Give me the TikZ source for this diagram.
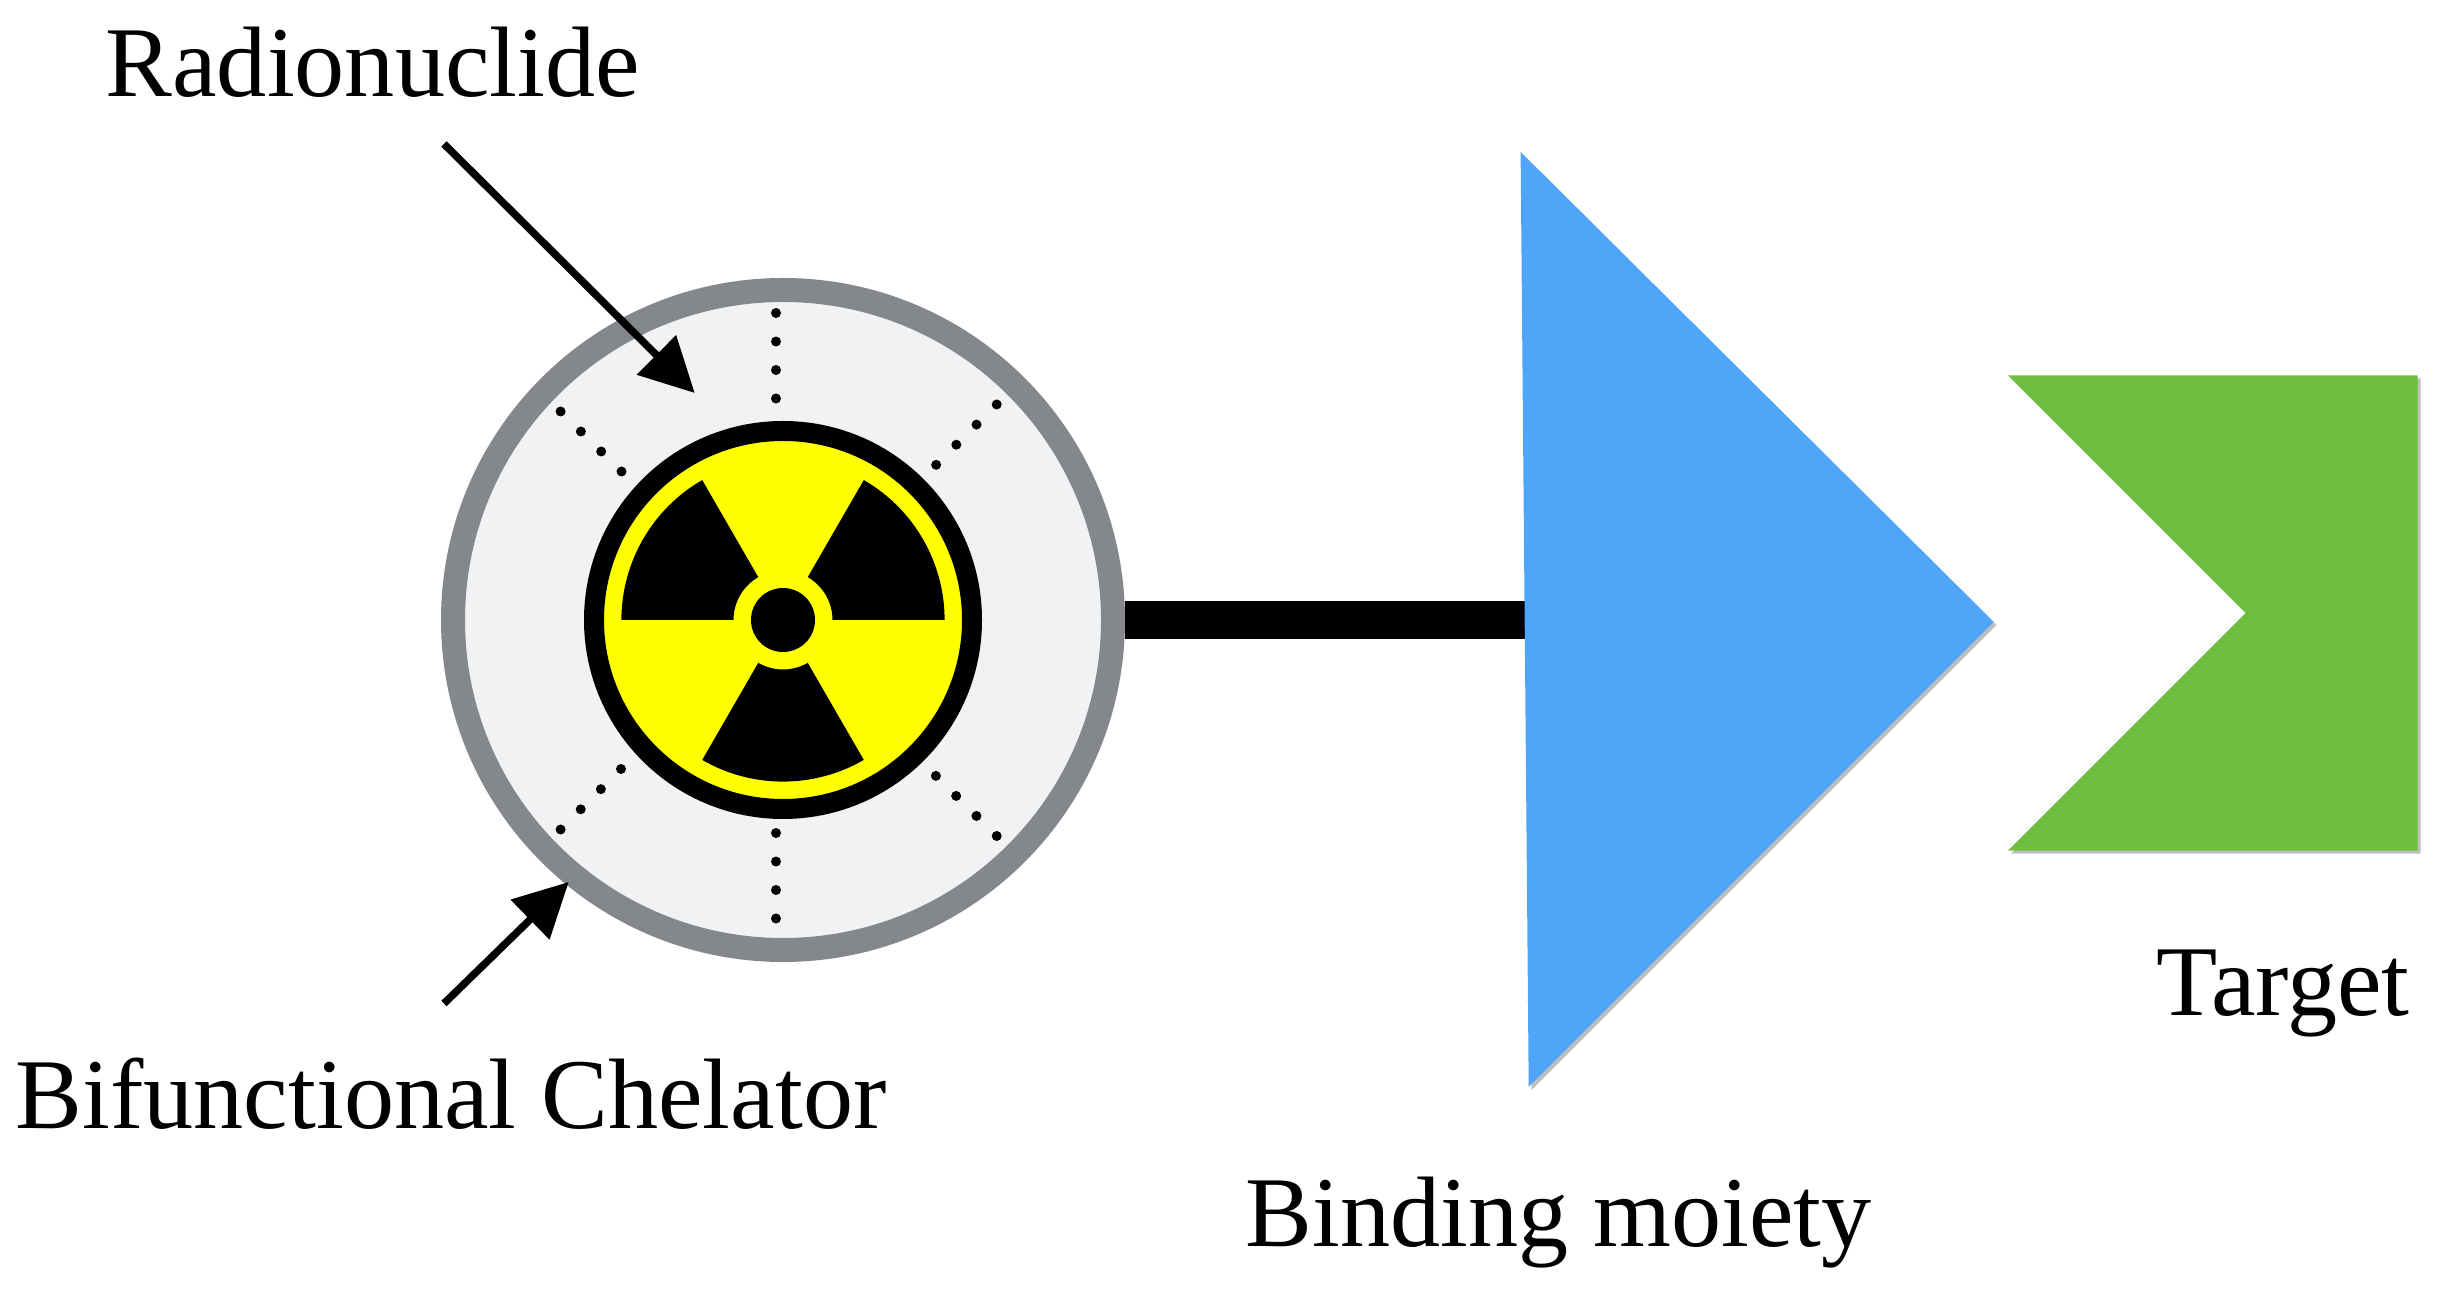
\documentclass[tikz,border=0pt]{standalone}
\usepackage{fontspec}
\setmainfont{Liberation Serif}
\usepackage{tikz}
\usetikzlibrary{arrows.meta, shadows}
\definecolor{ringgray}{HTML}{84878B}
\definecolor{discgray}{HTML}{F1F2F4}
\definecolor{bindblue}{HTML}{4FA5F8}
\definecolor{targetgreen}{HTML}{6EBE40}
\definecolor{signyellow}{HTML}{FFFF00}

\begin{document}
\begin{tikzpicture}[
        label/.style={anchor=base west, inner sep=0pt, font=\fontsize{28.5}{34}\selectfont},
        arr/.style={-{Triangle[length=5.4mm, width=5.4mm]}, line width=0.75mm},
        dots/.style={line width=1mm, line cap=round, dash pattern=on 0pt off 2.85mm},
        blade/.style={fill=black},
        soft/.style={drop shadow={shadow xshift=0.03cm, shadow yshift=-0.03cm, fill=gray, opacity=0.5}},
    ]
        \useasboundingbox (0, 0) rectangle (24.59, 13.02);

        % Chelator disc
        \node[circle, draw=ringgray, fill=discgray, line width=2.4mm, minimum size=6.6cm, inner sep=0pt] (chelator) at (7.83, 6.82) {};

        % Coordination sites
        \draw[dots] (7.76, 9.89) -- (7.76, 9.03);
        \draw[dots] (7.76, 4.69) -- (7.76, 3.81);
        \draw[dots] (5.606, 8.905) -- (6.22, 8.30);
        \draw[dots] (9.967, 8.975) -- (9.35, 8.36);
        \draw[dots] (5.606, 4.725) -- (6.22, 5.34);
        \draw[dots] (9.967, 4.66) -- (9.35, 5.27);

        % Radiation symbol
        \node[circle, draw=black, fill=signyellow, line width=2mm, minimum size=3.78cm, inner sep=0pt] (nuclide) at (chelator.center) {};
        \node[circle, fill=black, minimum size=0.64cm, inner sep=0pt] (hub) at (chelator.center) {};
        \begin{scope}[shift={(chelator.center)}]
            \fill[blade] (0:0.495) -- (0:1.616) arc[start angle=0, end angle=60, radius=1.616] -- (60:0.495) arc[start angle=60, end angle=0, radius=0.495] -- cycle;
            \fill[blade] (120:0.495) -- (120:1.616) arc[start angle=120, end angle=180, radius=1.616] -- (180:0.495) arc[start angle=180, end angle=120, radius=0.495] -- cycle;
            \fill[blade] (240:0.495) -- (240:1.616) arc[start angle=240, end angle=300, radius=1.616] -- (300:0.495) arc[start angle=300, end angle=240, radius=0.495] -- cycle;
        \end{scope}

        % Linker
        \coordinate (bindBase) at (15.3, 6.82);
        \draw[line width=3.8mm] (chelator.east) -- (bindBase);

        % Binding moiety
        \fill[bindblue, soft] (15.206, 11.5) -- (19.937, 6.80) -- (15.287, 2.15) -- cycle;

        % Target
        \fill[targetgreen, soft] (20.08, 9.265) -- (24.175, 9.265) -- (24.175, 4.513) -- (20.08, 4.513) -- (22.456, 6.89) -- cycle;

        % Labels
        \node[label] (radio) at (1.05, 12.05) {Radionuclide};
        \node[label] (bfc) at (0.15, 1.73) {Bifunctional Chelator};
        \node[label] (binding) at (12.45, 0.55) {Binding moiety};
        \node[label] (target) at (21.56, 2.86) {Target};

        % Arrows
        \coordinate (radioTail) at (4.44, 11.58);
        \coordinate (radioTip) at (6.947, 9.09);
        \coordinate (bfcTail) at (4.44, 2.985);
        \coordinate (bfcTip) at (5.687, 4.2);
        \draw[arr] (radioTail) -- (radioTip);
        \draw[arr] (bfcTail) -- (bfcTip);
    \end{tikzpicture}
\end{document}
